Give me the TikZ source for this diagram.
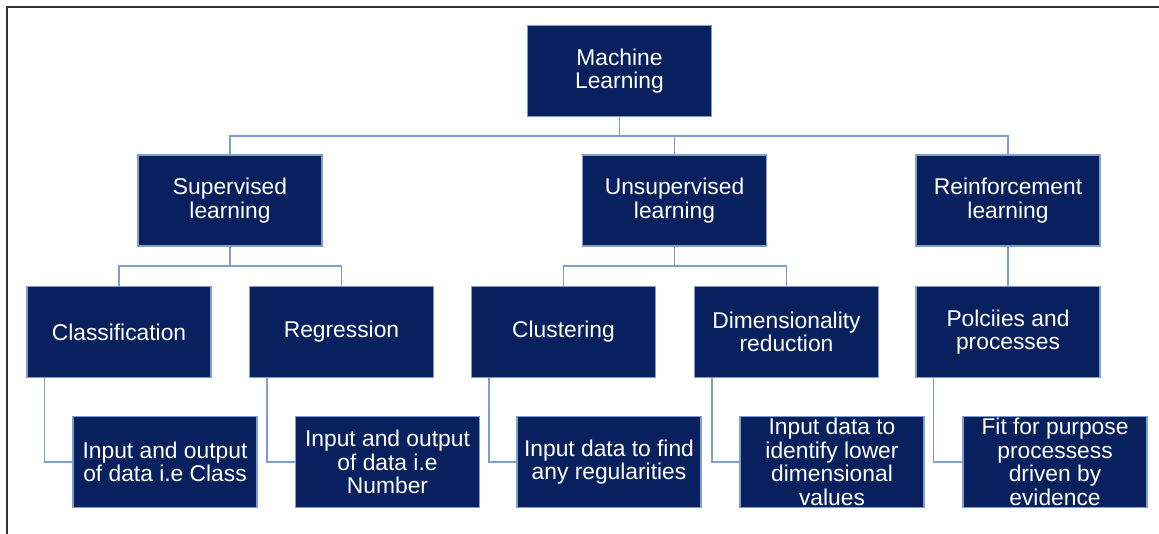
\documentclass[tikz,border=0pt]{standalone}
\usepackage{fontspec}
\setmainfont{Liberation Sans}
\definecolor{navy}{HTML}{08205E}
\definecolor{edgeblue}{HTML}{7E9FCB}

\begin{document}
\begin{tikzpicture}[x=1pt,y=-1pt,
      mlbox/.style={rectangle, draw=edgeblue, fill=navy, line width=1.2pt,
        minimum width=184pt, minimum height=91pt, inner sep=0pt,
        text=white, align=center, font=\fontsize{22.8}{23.5}\selectfont},
      link/.style={draw=edgeblue, line width=1.5pt}]

    \useasboundingbox (0,0) rectangle (1159,534);
    \draw[line width=1.6pt, black!80] (7,534) -- (7,7) -- (1159,7);

    % top
    \node[mlbox] (ml) at (619.5,71) {Machine\\Learning};

    \node[mlbox] (sup) at (230,200.5)  {Supervised\\learning};
    \node[mlbox] (uns) at (674.5,200.5) {Unsupervised\\learning};
    \node[mlbox] (rl)  at (1008,200.5) {Reinforcement\\learning};

    \node[mlbox] (cls) at (119,332)   {Classification};
    \node[mlbox] (reg) at (341.5,332) {Regression};
    \node[mlbox] (clu) at (563.5,332) {Clustering};
    \node[mlbox] (dim) at (786.5,332) {Dimensionality\\reduction};
    \node[mlbox] (pol) at (1008,332)  {Polciies and\\processes};

    \node[mlbox] (in1) at (165,462)   {Input and output\\of data i.e Class};
    \node[mlbox] (in2) at (387.5,462) {Input and output\\of data i.e\\Number};
    \node[mlbox] (in3) at (609,462)   {Input data to find\\any regularities};
    \node[mlbox] (in4) at (832,462)   {Input data to\\identify lower\\dimensional\\values};
    \node[mlbox] (in5) at (1055,462)  {Fit for purpose\\processess\\driven by\\evidence};

    % connectors
    \coordinate (j1) at (619.5,136);
    \draw[link] (ml.south) -- (j1);
    \draw[link] (sup.north) |- (j1) -| (rl.north);
    \draw[link] (uns.north) -- (uns.north |- j1);

    \coordinate (j2) at (230,266);
    \draw[link] (sup.south) -- (j2);
    \draw[link] (cls.north) |- (j2) -| (reg.north);

    \coordinate (j3) at (674.5,266);
    \draw[link] (uns.south) -- (j3);
    \draw[link] (clu.north) |- (j3) -| (dim.north);

    \draw[link] (rl.south) -- (pol.north);

    \draw[link] ([xshift=18pt]cls.south west) |- (in1.west);
    \draw[link] ([xshift=18pt]reg.south west) |- (in2.west);
    \draw[link] ([xshift=18pt]clu.south west) |- (in3.west);
    \draw[link] ([xshift=18pt]dim.south west) |- (in4.west);
    \draw[link] ([xshift=18pt]pol.south west) |- (in5.west);

  \end{tikzpicture}
\end{document}
